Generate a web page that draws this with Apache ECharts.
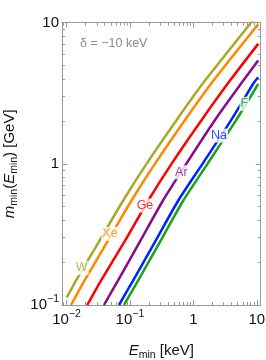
<!DOCTYPE html>
<html><head><meta charset="utf-8">
<script src="https://cdn.jsdelivr.net/npm/echarts@6/dist/echarts.min.js"></script>
<style>html,body{margin:0;padding:0;background:#fff}#c{width:266px;height:360px}</style>
</head><body><div id="c"></div>
<script>
// ---- data ----
const elements = ['W', 'Xe', 'Ge', 'Ar', 'Na', 'F'];
const W_E  = [0.0101, 0.01411, 0.03323, 0.07825, 0.1823, 0.5377, 1.523, 8.087, 10.5];
const W_M  = [0.113, 0.149, 0.286, 0.55, 1.0, 2.03, 3.89, 10.0, 11.5];
const Xe_E = [0.01177, 0.01921, 0.04508, 0.1058, 0.2473, 0.7293, 2.074, 10.5];
const Xe_M = [0.1, 0.149, 0.286, 0.55, 1.0, 2.03, 3.89, 9.75];
const Ge_E = [0.02127, 0.03497, 0.08386, 0.1946, 0.4517, 1.332, 3.775, 10.5];
const Ge_M = [0.1, 0.149, 0.286, 0.55, 1.0, 2.03, 3.89, 7.08];
const Ar_E = [0.03899, 0.06479, 0.1466, 0.3318, 0.7703, 2.166, 6.115, 10.5];
const Ar_M = [0.1, 0.149, 0.286, 0.55, 1.0, 2.03, 3.89, 5.39];
const Na_E = [0.06721, 0.1121, 0.2545, 0.5781, 1.391, 3.913, 9.018, 10.5];
const Na_M = [0.1, 0.149, 0.286, 0.55, 1.0, 2.03, 3.77, 4.11];
const F_E  = [0.08058, 0.1344, 0.3052, 0.6932, 1.668, 4.692, 10.5];
const F_M  = [0.1, 0.149, 0.286, 0.55, 1.0, 2.03, 3.68];
// curve labels (element names placed on the curves)
const labelE = [0.0174, 0.0485, 0.1726, 0.645, 2.53, 6.34];
const labelM = [0.183, 0.319, 0.506, 0.872, 1.586, 2.66];
// ticks
const xMajor = [0.01, 0.1, 1, 10];
const xMinor = [0.009, 0.02,0.03,0.04,0.05,0.06,0.07,0.08,0.09, 0.2,0.3,0.4,0.5,0.6,0.7,0.8,0.9, 2,3,4,5,6,7,8,9];
const yMajor = [0.1, 1, 10];
const yMinor = [0.2,0.3,0.4,0.5,0.6,0.7,0.8,0.9, 2,3,4,5,6,7,8,9];
const xTickLabels = {0.01: '{b|10}{sup|−2}', 0.1: '{b|10}{sup|−1}', 1: '{b|1}', 10: '{b|10}'};
const yTickLabels = {0.1: '{b|10}{sup|−1}', 1: '{b|1}', 10: '{b|10}'};
const annotation = 'δ = −10 keV';

const curvesE = [W_E, Xe_E, Ge_E, Ar_E, Na_E, F_E];
const curvesM = [W_M, Xe_M, Ge_M, Ar_M, Na_M, F_M];
const colors = ['#a9a828', '#ff8800', '#ff0000', '#8b0a8b', '#0022ff', '#1aa31a'];

const FONT = 'Liberation Sans, Arial, sans-serif';
const AX = '#9a9a9a';
const XMIN = 0.0085, XMAX = 11.5, YMIN = 0.1, YMAX = 10;

const richTick = {
  b: {fontSize: 15, fontFamily: FONT, color: '#111', lineHeight: 22},
  sup: {fontSize: 10.5, fontFamily: FONT, color: '#111', lineHeight: 11, verticalAlign: 'top'}
};

function mkX(pos, ticks, len, labels) {
  return {
    type: 'log', logBase: 10, min: XMIN, max: XMAX, position: pos,
    axisLine: {show: true, lineStyle: {color: AX, width: 1}},
    axisTick: {show: true, inside: true, length: len, customValues: ticks, lineStyle: {color: AX, width: 1}},
    axisLabel: labels ? {show: true, customValues: xMajor, margin: 4, formatter: v => xTickLabels[+v.toPrecision(3)] || '', rich: richTick} : {show: false},
    splitLine: {show: false}, minorTick: {show: false}
  };
}
function mkY(pos, ticks, len, labels) {
  return {
    type: 'log', logBase: 10, min: YMIN, max: YMAX, position: pos,
    axisLine: {show: true, lineStyle: {color: AX, width: 1}},
    axisTick: {show: true, inside: true, length: len, customValues: ticks, lineStyle: {color: AX, width: 1}},
    axisLabel: labels ? {show: true, customValues: yMajor, margin: 3, formatter: v => yTickLabels[+v.toPrecision(3)] || '', rich: richTick} : {show: false},
    splitLine: {show: false}, minorTick: {show: false}
  };
}

const xAxes = [mkX('bottom', xMajor, 5, true), mkX('bottom', xMinor, 3, false), mkX('top', xMajor, 5, false), mkX('top', xMinor, 3, false)];
const yAxes = [mkY('left', yMajor, 5, true), mkY('left', yMinor, 3, false), mkY('right', yMajor, 5, false), mkY('right', yMinor, 3, false)];

const titleRich = {
  i: {fontSize: 15, fontStyle: 'italic', fontFamily: FONT, color: '#111', lineHeight: 20},
  s: {fontSize: 10.5, fontFamily: FONT, color: '#111', lineHeight: 11, verticalAlign: 'bottom'}
};
xAxes[0].name = '{i|E}{s|min} [keV]';
xAxes[0].nameLocation = 'middle';
xAxes[0].nameGap = 36;
xAxes[0].nameTextStyle = {fontSize: 15, fontFamily: FONT, color: '#111', rich: titleRich};
yAxes[0].name = '{i|m}{s|min}({i|E}{s|min}) [GeV]';
yAxes[0].nameLocation = 'middle';
yAxes[0].nameGap = 40;
yAxes[0].nameRotate = 90;
yAxes[0].nameTextStyle = {fontSize: 15, fontFamily: FONT, color: '#111', rich: titleRich};

const series = elements.map((el, k) => ({
  type: 'line', name: el, xAxisIndex: 0, yAxisIndex: 0,
  data: curvesE[k].map((e, i) => [e, curvesM[k][i]]),
  showSymbol: false, symbol: 'none', smooth: 0.2, clip: true,
  lineStyle: {color: colors[k], width: 2.5}, z: 2, silent: true
}));
series.push({
  type: 'scatter', xAxisIndex: 0, yAxisIndex: 0, symbolSize: 1, z: 10, silent: true,
  itemStyle: {color: 'rgba(0,0,0,0)'},
  data: elements.map((el, k) => ({
    value: [labelE[k], labelM[k]], name: el,
    label: {show: true, position: 'inside', formatter: el, color: colors[k], fontSize: 12.5, fontFamily: FONT,
            backgroundColor: '#fff', padding: [0, 1], lineHeight: 14}
  }))
});

const chart = echarts.init(document.getElementById('c'), null, {renderer: 'canvas'});
chart.setOption({
  animation: false,
  backgroundColor: '#fff',
  grid: {left: 62, top: 22.7, right: 5.3, bottom: 55, containLabel: false, outerBoundsMode: 'none'},
  xAxis: xAxes, yAxis: yAxes,
  series: series,
  graphic: [{
    type: 'text', left: 80, top: 37, silent: true,
    style: {text: annotation, fontSize: 12.5, fontFamily: FONT, fill: '#8c8c8c'}
  }]
});
</script></body></html>
